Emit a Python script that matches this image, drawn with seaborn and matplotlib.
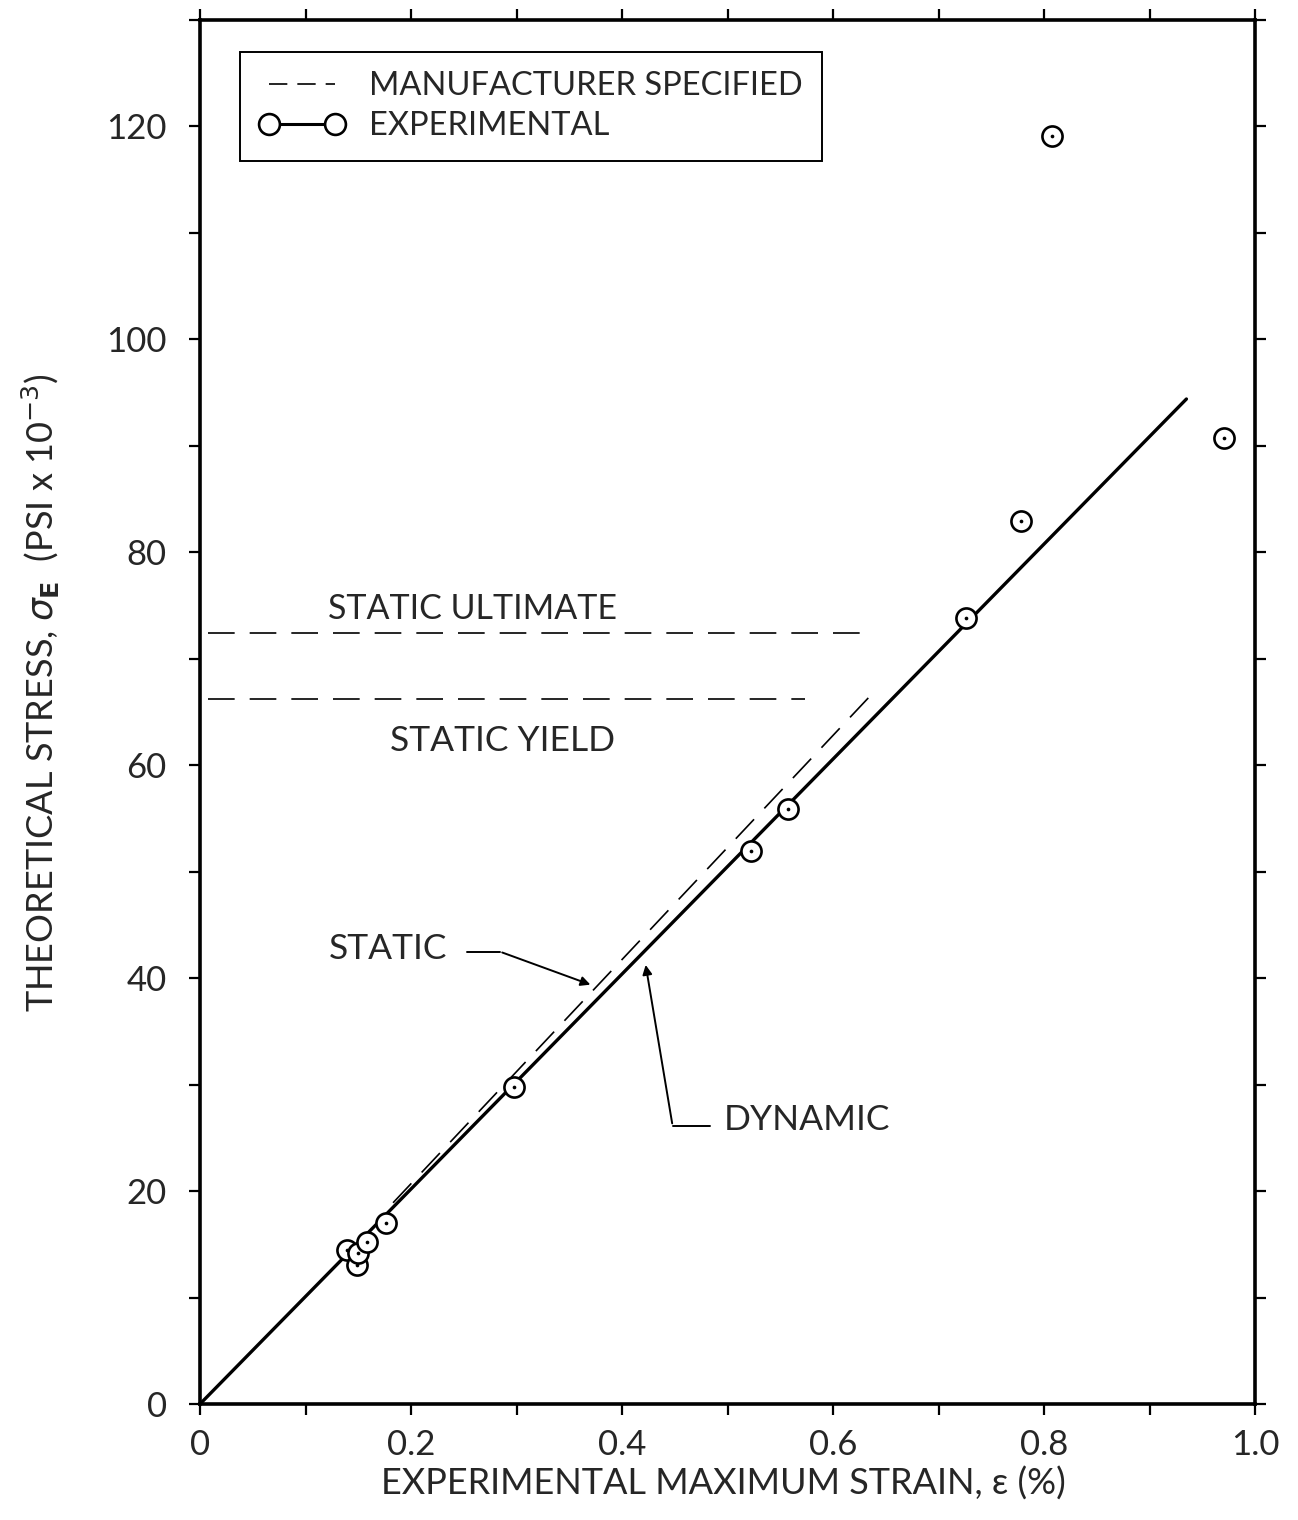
import matplotlib
matplotlib.use("Agg")
import matplotlib.pyplot as plt
import seaborn as sns
from matplotlib.lines import Line2D
from matplotlib.ticker import MultipleLocator

# ---- data ----
strain = [0.139, 0.149, 0.150, 0.158, 0.176, 0.298, 0.522, 0.557, 0.726, 0.778, 0.808, 0.971]
stress = [14.5, 13.1, 14.2, 15.2, 17.0, 29.8, 51.9, 55.9, 73.8, 82.9, 119.1, 90.7]

dynamic_x = [0.0, 0.935]
dynamic_y = [0.0, 94.4]

static_x = [0.183, 0.638]
static_y = [18.9, 66.8]

ultimate_x = [0.008, 0.626]
ultimate_y = [72.4, 72.4]

yield_x = [0.008, 0.573]
yield_y = [66.2, 66.2]

x_ticks = [0, 0.2, 0.4, 0.6, 0.8, 1.0]
x_ticklabels = ["0", "0.2", "0.4", "0.6", "0.8", "1.0"]
y_ticks = [0, 20, 40, 60, 80, 100, 120]
y_ticklabels = ["0", "20", "40", "60", "80", "100", "120"]

sns.set_theme(style="ticks")
plt.rcParams["font.family"] = ["Lato", "DejaVu Sans"]
plt.rcParams["mathtext.fontset"] = "dejavusans"

fig = plt.figure(figsize=(12.98, 15.20), dpi=100)
ax = fig.add_axes([200/1298, 1 - 1404/1520, 1055/1298, 1384/1520])

dash = (0, (16, 9))
sns.lineplot(x=dynamic_x, y=dynamic_y, ax=ax, color="black", lw=2.4, sort=False, estimator=None)
sns.lineplot(x=static_x, y=static_y, ax=ax, color="black", lw=1.2, linestyle=dash, sort=False, estimator=None)
sns.lineplot(x=ultimate_x, y=ultimate_y, ax=ax, color="black", lw=1.2, linestyle=dash, sort=False, estimator=None)
sns.lineplot(x=yield_x, y=yield_y, ax=ax, color="black", lw=1.2, linestyle=dash, sort=False, estimator=None)

sns.scatterplot(x=strain, y=stress, ax=ax, marker="o", s=210, facecolor="white",
                edgecolor="black", linewidth=1.9, zorder=5)
sns.scatterplot(x=strain, y=stress, ax=ax, marker="o", s=7, color="black",
                edgecolor="black", linewidth=0, zorder=6)

ax.set_xlim(0, 1.0)
ax.set_ylim(0, 130)

ax.xaxis.set_minor_locator(MultipleLocator(0.1))
ax.yaxis.set_minor_locator(MultipleLocator(10))
ax.set_xticks(x_ticks)
ax.set_xticklabels(x_ticklabels)
ax.set_yticks(y_ticks)
ax.set_yticklabels(y_ticklabels)

for s in ax.spines.values():
    s.set_visible(True)
    s.set_linewidth(2.6)
    s.set_color("black")

ax.tick_params(which="both", direction="out", length=8, width=1.6, color="black",
               top=True, right=True, labeltop=False, labelright=False)
ax.tick_params(axis="x", which="major", labelsize=25, pad=10)
ax.tick_params(axis="y", which="major", labelsize=25, pad=16)

ax.set_xlabel("EXPERIMENTAL MAXIMUM STRAIN, ε (%)", fontsize=26)
ax.xaxis.set_label_coords(0.496, -0.045)
ax.set_ylabel("THEORETICAL STRESS, $\\sigma_{\\mathbf{E}}$  (PSI x 10$^{-3}$)", fontsize=26)
ax.yaxis.set_label_coords(-0.131, 0.514)

# annotations
ax.text(0.258, 74.7, "STATIC ULTIMATE", fontsize=24.5, ha="center", va="center")
ax.text(0.287, 62.3, "STATIC YIELD", fontsize=25.5, ha="center", va="center")
ax.text(0.178, 42.7, "STATIC", fontsize=25.5, ha="center", va="center")
ax.text(0.575, 26.7, "DYNAMIC", fontsize=25.5, ha="center", va="center")

ax.plot([0.253, 0.284], [42.5, 42.5], color="black", lw=1.4)
ax.annotate("", xy=(0.3725, 39.3), xytext=(0.284, 42.5),
            arrowprops=dict(arrowstyle="-|>", color="black", lw=1.4, mutation_scale=14))
ax.plot([0.483, 0.448], [26.1, 26.1], color="black", lw=1.4)
ax.annotate("", xy=(0.422, 41.5), xytext=(0.448, 26.1),
            arrowprops=dict(arrowstyle="-|>", color="black", lw=1.4, mutation_scale=14))

handles = [
    Line2D([], [], color="black", lw=1.2, linestyle=(0, (11, 6))),
    Line2D([], [], color="black", lw=2.2, linestyle="-", marker="o", markersize=15,
           markerfacecolor="white", markeredgecolor="black", markeredgewidth=1.9),
]
leg = ax.legend(handles, ["MANUFACTURER SPECIFIED", "EXPERIMENTAL"], loc="upper left",
                bbox_to_anchor=(0.038, 0.977), borderaxespad=0, fontsize=23.5,
                numpoints=2, handlelength=2.6, handletextpad=0.75, labelspacing=0.3,
                fancybox=False, framealpha=1, edgecolor="black", borderpad=0.6)
leg.get_frame().set_linewidth(1.4)

fig.savefig("out.png", dpi=100, facecolor="white")
